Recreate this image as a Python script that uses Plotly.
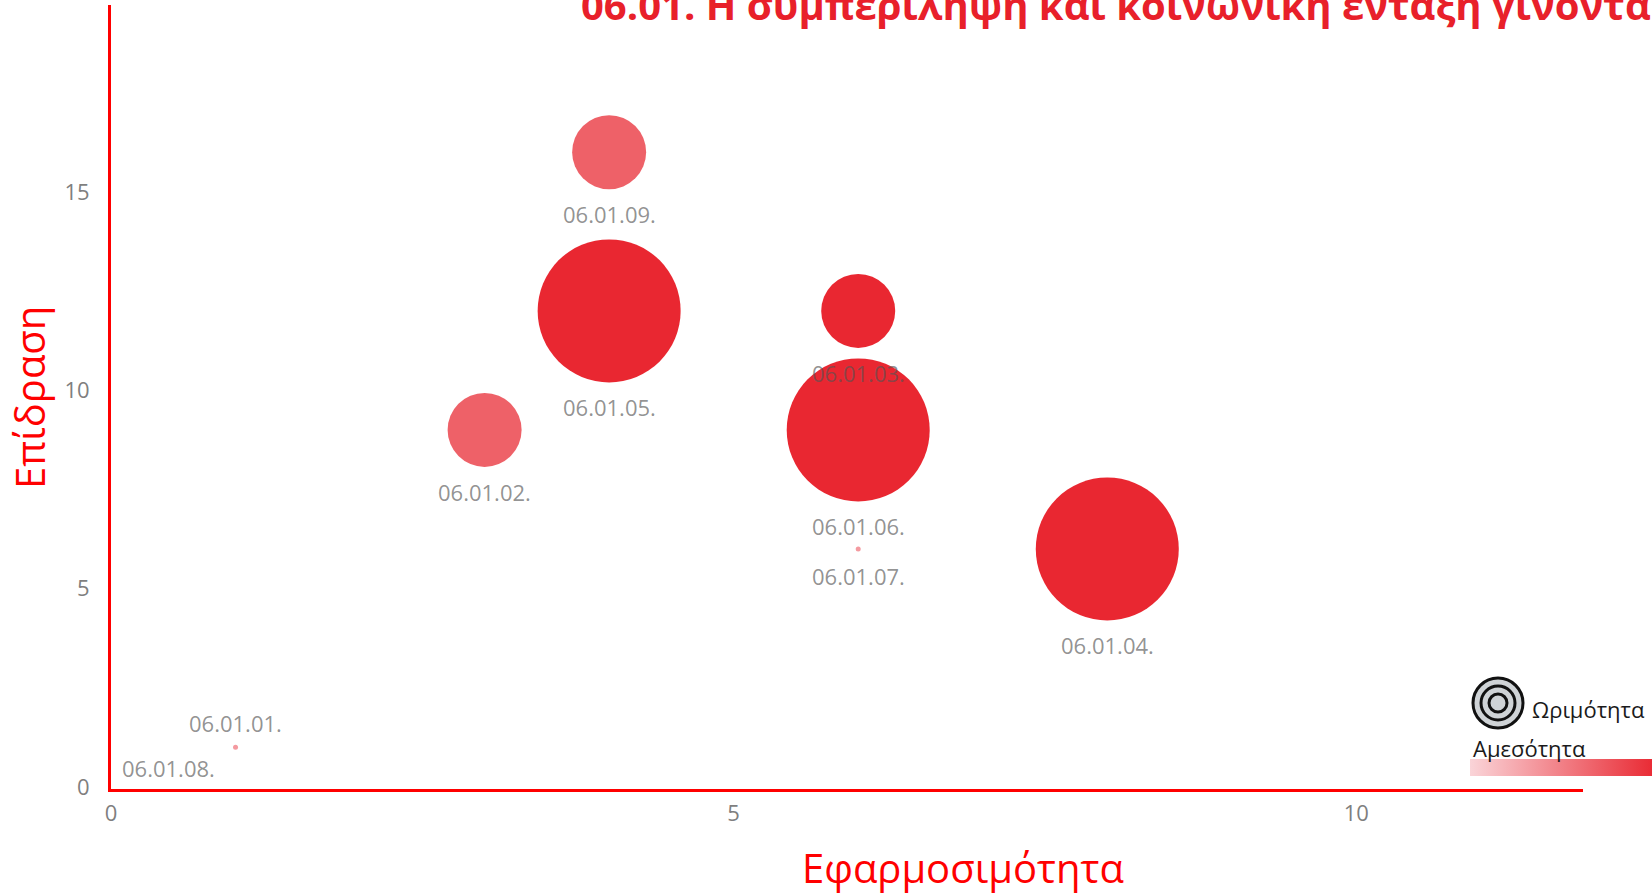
import plotly.graph_objects as go

# Initiatives of axis 06.01 and their assessment scores
codes = ["06.01.01.", "06.01.02.", "06.01.03.", "06.01.04.", "06.01.05.",
         "06.01.06.", "06.01.07.", "06.01.08.", "06.01.09."]
applicability = [1, 3, 6, 8, 4, 6, 6, 0, 4]     # Εφαρμοσιμότητα
impact = [1, 9, 12, 6, 12, 9, 6, 0, 16]         # Επίδραση
maturity = [1, 2, 2, 3, 3, 3, 1, 0, 2]          # Ωριμότητα (bubble size)
immediacy = [1, 2, 3, 3, 3, 3, 1, 0, 2]         # Αμεσότητα (bubble colour)

x_ticks = [0, 5, 10]
y_ticks = [0, 5, 10, 15]

title_text = "06.01. Η συμπερίληψη και κοινωνική ένταξη γίνονται"
x_title = "Εφαρμοσιμότητα"
y_title = "Επίδραση"
size_legend = "Ωριμότητα"
color_legend = "Αμεσότητα"

W, H = 1652, 893
L, R, T, B = 111, 1583, 5, 789          # plot area in pixels
RED = "#e8202a"
AXIS_RED = "#ff0000"
FONT = "Open Sans"
colorscale = [[0.0, "#fad4d8"], [1.0, RED]]


def px_x(px):
    return (px - L) / (R - L)


def px_y(py):
    return (B - py) / (B - T)


def diameter(m):
    # linear bubble scale: level 1 -> 5 px, level 3 -> 143 px
    return max(0.0, 5 + 69 * (m - 1))


sizes = [diameter(m) for m in maturity]

fig = go.Figure()
fig.add_trace(go.Scatter(
    x=applicability, y=impact, mode="markers",
    text=codes, hoverinfo="text",
    marker=dict(
        size=sizes, sizemode="diameter",
        color=immediacy, colorscale=colorscale, cmin=0, cmax=3.12,
        opacity=1, line=dict(width=0),
        showscale=True,
        colorbar=dict(
            orientation="h", xref="container", yref="container",
            x=1650 / W, xanchor="left", y=1 - 759 / H, yanchor="top",
            lenmode="pixels", len=195, thicknessmode="pixels", thickness=17,
            outlinewidth=0, showticklabels=False, ticks="",
            xpad=0, ypad=0, bgcolor="rgba(0,0,0,0)",
        ),
    ),
    showlegend=False,
    cliponaxis=False,
))

annotations = []
label_color = "rgba(85,85,85,0.65)"
label_font = dict(family=FONT, size=22, color=label_color)
for code, x, y, d in zip(codes, applicability, impact, sizes):
    if code == "06.01.08.":
        annotations.append(dict(x=x, y=y, xref="x", yref="y", text=code,
                                showarrow=False, xanchor="left", yanchor="middle",
                                xshift=9, yshift=19, font=label_font))
    elif code == "06.01.01.":
        annotations.append(dict(x=x, y=y, xref="x", yref="y", text=code,
                                showarrow=False, xanchor="center", yanchor="middle",
                                yshift=24, font=label_font))
    else:
        annotations.append(dict(x=x, y=y, xref="x", yref="y", text=code,
                                showarrow=False, xanchor="center", yanchor="middle",
                                yshift=-(d / 2 + 25), font=label_font))

# chart title (runs past the top and right edges)
annotations.append(dict(x=px_x(579), y=px_y(4.5), xref="paper", yref="paper",
                        text="<b>" + title_text + "</b>", showarrow=False,
                        xanchor="left", yanchor="middle",
                        font=dict(family=FONT, size=40, color=RED)))
# axis titles
annotations.append(dict(x=px_x(963), y=px_y(867), xref="paper", yref="paper",
                        text=x_title, showarrow=False,
                        xanchor="center", yanchor="middle",
                        font=dict(family=FONT, size=40, color=AXIS_RED)))
annotations.append(dict(x=px_x(30), y=px_y(398), xref="paper", yref="paper",
                        text=y_title, showarrow=False, textangle=-90,
                        xanchor="center", yanchor="middle",
                        font=dict(family=FONT, size=40, color=AXIS_RED)))
# legend captions
annotations.append(dict(x=px_x(1530), y=px_y(709), xref="paper", yref="paper",
                        text=size_legend, showarrow=False,
                        xanchor="left", yanchor="middle",
                        font=dict(family=FONT, size=22, color="#1a1a1a")))
annotations.append(dict(x=px_x(1471), y=px_y(748), xref="paper", yref="paper",
                        text=color_legend, showarrow=False,
                        xanchor="left", yanchor="middle",
                        font=dict(family=FONT, size=22, color="#1a1a1a")))

# size legend icon: concentric rings
shapes = []
cx, cy = px_x(1498), px_y(703)
for r in (25, 17, 9):
    shapes.append(dict(type="circle", xref="paper", yref="paper",
                       xsizemode="pixel", ysizemode="pixel",
                       xanchor=cx, yanchor=cy,
                       x0=-r, x1=r, y0=-r, y1=r,
                       fillcolor="#cfd3d6", line=dict(color="#111111", width=3)))

fig.update_layout(
    width=W, height=H,
    margin=dict(l=L, r=W - R, t=T, b=H - B, autoexpand=False),
    paper_bgcolor="white", plot_bgcolor="white",
    annotations=annotations, shapes=shapes,
    xaxis=dict(range=[0, 11.82], tickvals=x_ticks, showgrid=False, zeroline=False,
               showline=True, linecolor=AXIS_RED, linewidth=3, ticks="",
               ticklabelstandoff=3,
               tickfont=dict(family=FONT, size=22, color="#7f7f7f")),
    yaxis=dict(range=[-0.05, 19.71], tickvals=y_ticks, showgrid=False, zeroline=False,
               showline=True, linecolor=AXIS_RED, linewidth=3, ticks="",
               ticklabelstandoff=14,
               tickfont=dict(family=FONT, size=22, color="#7f7f7f")),
)

fig.write_html("out.html")
